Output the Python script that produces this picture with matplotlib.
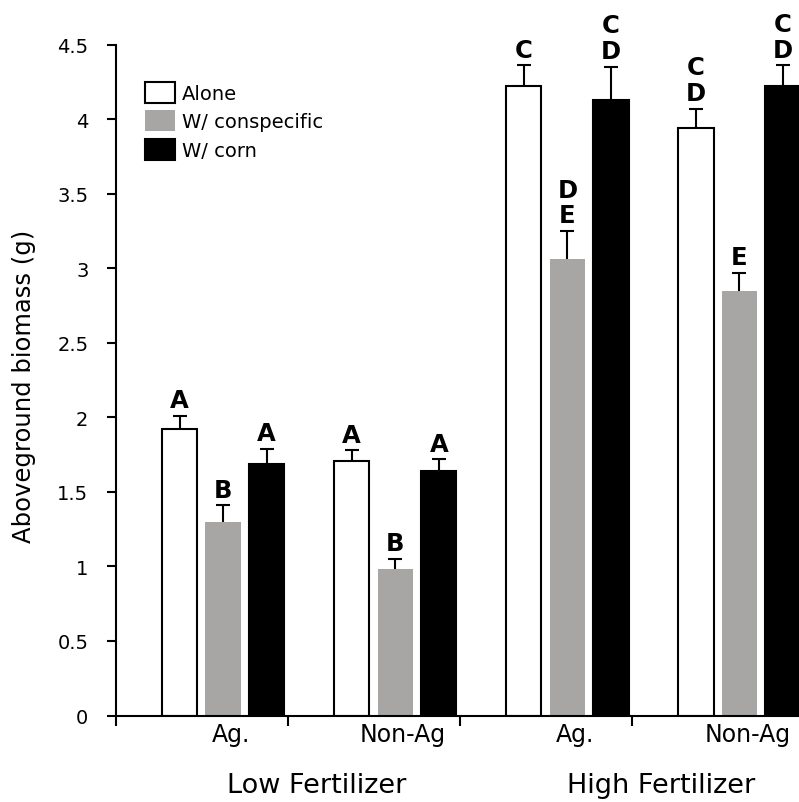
import matplotlib.pyplot as plt
import numpy as np

plt.rcParams['font.family'] = ['DejaVu Sans']

# Data
sites = ['Ag.', 'Non-Ag', 'Ag.', 'Non-Ag']
fertilizer = ['Low Fertilizer', 'High Fertilizer']
series = ['Alone', 'W/ conspecific', 'W/ corn']

alone = [1.92, 1.71, 4.22, 3.94]
alone_se = [0.09, 0.07, 0.14, 0.13]
conspecific = [1.30, 0.98, 3.06, 2.85]
conspecific_se = [0.11, 0.07, 0.19, 0.12]
corn = [1.69, 1.64, 4.13, 4.22]
corn_se = [0.10, 0.08, 0.22, 0.14]

letters_alone = ['A', 'A', 'C', 'C\nD']
letters_conspecific = ['B', 'B', 'D\nE', 'E']
letters_corn = ['A', 'A', 'C\nD', 'C\nD']

means = [alone, conspecific, corn]
errors = [alone_se, conspecific_se, corn_se]
letters = [letters_alone, letters_conspecific, letters_corn]

# Figure and axes (the last group runs off the right edge)
fig = plt.figure(figsize=(7.99, 8.03), dpi=100)
ax = fig.add_axes([115.5 / 799, 86.5 / 803, 688.5 / 799, 671 / 803])

x = np.arange(len(sites))
offsets = [0.372, 0.625, 0.878]
bar_width = 0.205
styles = [
    dict(facecolor='white', edgecolor='black', linewidth=1.5),
    dict(facecolor='#a8a5a5', edgecolor='none'),
    dict(facecolor='black', edgecolor='black', linewidth=1.5),
]

handles = []
for vals, se, labs, off, st in zip(means, errors, letters, offsets, styles):
    pos = x + off
    bars = ax.bar(pos, vals, width=bar_width, zorder=2, **st)
    handles.append(bars)
    # upper error bars only: drop the cap sitting on the bar top
    eb = ax.errorbar(pos, vals, yerr=[np.zeros(len(vals)), se], fmt='none',
                     ecolor='black', elinewidth=1.5, capsize=5, capthick=1.5, zorder=3)
    eb[1][0].remove()
    for px, v, e, lab in zip(pos, vals, se, labs):
        ax.annotate(lab, (px, v + e), xytext=(0, 2.5), textcoords='offset points',
                    ha='center', va='bottom', fontsize=17.5, fontweight='bold',
                    linespacing=1.1)

# Axes styling
ax.set_xlim(0, 4)
ax.set_ylim(0, 4.5)
for side in ['top', 'right']:
    ax.spines[side].set_visible(False)
for side in ['left', 'bottom']:
    ax.spines[side].set_linewidth(1.5)

yticks = np.arange(0, 4.51, 0.5)
ax.set_yticks(yticks)
ax.set_yticklabels([f'{v:g}' for v in yticks])
ax.tick_params(axis='y', direction='out', length=6.5, width=1.5, pad=13, labelsize=14)

ax.set_xticks(np.arange(0, 5))
ax.set_xticklabels([])
ax.tick_params(axis='x', which='major', direction='out', length=7, width=1.5)
ax.set_xticks(x + 0.67, minor=True)
ax.set_xticklabels(sites, minor=True)
ax.tick_params(axis='x', which='minor', length=0, pad=5, labelsize=17)

ax.text(-0.133, 0.492, 'Aboveground biomass (g)', transform=ax.transAxes,
        rotation=90, ha='center', va='center', fontsize=17.5)

for i, name in enumerate(fertilizer):
    ax.text(1.17 + 2 * i, -0.114, name, transform=ax.get_xaxis_transform(),
            ha='center', va='baseline', fontsize=19.5)

ax.legend(handles, series, loc='upper left', bbox_to_anchor=(145 / 799, 1 - 83 / 803),
          bbox_transform=fig.transFigure, frameon=False, fontsize=14,
          handlelength=1.55, handleheight=1.29, handletextpad=0.36,
          labelspacing=0.37, borderpad=0, borderaxespad=0)

fig.savefig('out.png', dpi=100)
